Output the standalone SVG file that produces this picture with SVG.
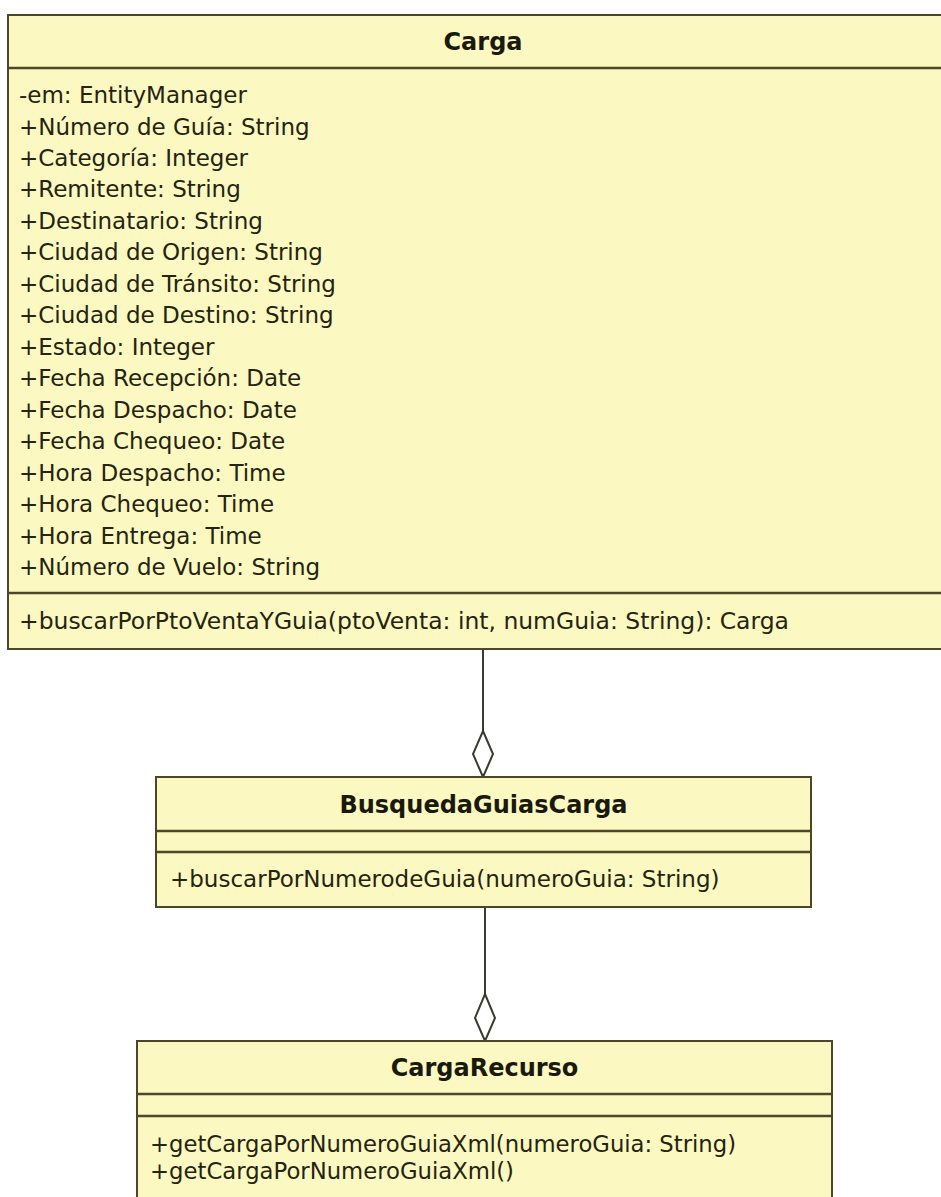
<svg xmlns="http://www.w3.org/2000/svg" width="941" height="1197" viewBox="0 0 941 1197">
  <style>
    .box { fill: #fcf8c2; stroke: #4e4628; stroke-width: 2; }
    .sep { stroke: #4e4628; stroke-width: 2.5; }
    .name { font-family: "DejaVu Sans", "Liberation Sans", sans-serif; font-size: 24px; font-weight: bold; fill: #1a1a0c; text-anchor: middle; dominant-baseline: central; }
    .member { font-family: "DejaVu Sans", "Liberation Sans", sans-serif; font-size: 23px; fill: #24240f; dominant-baseline: central; }
    .link { stroke: #3a3a30; stroke-width: 2; fill: none; }
    .agg { fill: #ffffff; stroke: #3a3a30; stroke-width: 2; }
  </style>
  <rect width="941" height="1197" fill="#ffffff"/>

  <!-- aggregation connectors -->
  <g id="connectors">
    <line class="link" x1="483" y1="649" x2="483" y2="731"/>
    <polygon class="agg" points="483,731 493,754 483,777 473,754"/>
    <line class="link" x1="485" y1="907" x2="485" y2="994"/>
    <polygon class="agg" points="485,994 495,1018 485,1041 475,1018"/>
  </g>

  <!-- class Carga -->
  <g id="carga">
    <rect class="box" x="8" y="15" width="960" height="634"/>
    <line class="sep" x1="8" y1="68" x2="968" y2="68"/>
    <line class="sep" x1="8" y1="593" x2="968" y2="593"/>
    <text class="name" x="483" y="42">Carga</text>
    <text class="member" x="19" y="95">-em: EntityManager</text>
    <text class="member" x="19" y="127">+Número de Guía: String</text>
    <text class="member" x="19" y="158">+Categoría: Integer</text>
    <text class="member" x="19" y="189">+Remitente: String</text>
    <text class="member" x="19" y="221">+Destinatario: String</text>
    <text class="member" x="19" y="252">+Ciudad de Origen: String</text>
    <text class="member" x="19" y="284">+Ciudad de Tránsito: String</text>
    <text class="member" x="19" y="315">+Ciudad de Destino: String</text>
    <text class="member" x="19" y="347">+Estado: Integer</text>
    <text class="member" x="19" y="378">+Fecha Recepción: Date</text>
    <text class="member" x="19" y="410">+Fecha Despacho: Date</text>
    <text class="member" x="19" y="441">+Fecha Chequeo: Date</text>
    <text class="member" x="19" y="473">+Hora Despacho: Time</text>
    <text class="member" x="19" y="504">+Hora Chequeo: Time</text>
    <text class="member" x="19" y="536">+Hora Entrega: Time</text>
    <text class="member" x="19" y="567">+Número de Vuelo: String</text>
    <text class="member" x="19" y="621" textLength="770" lengthAdjust="spacingAndGlyphs">+buscarPorPtoVentaYGuia(ptoVenta: int, numGuia: String): Carga</text>
  </g>

  <!-- class BusquedaGuiasCarga -->
  <g id="busquedaGuiasCarga">
    <rect class="box" x="156" y="777" width="655" height="130"/>
    <line class="sep" x1="156" y1="831" x2="811" y2="831"/>
    <line class="sep" x1="156" y1="852" x2="811" y2="852"/>
    <text class="name" x="483.5" y="805">BusquedaGuiasCarga</text>
    <text class="member" x="170" y="879">+buscarPorNumerodeGuia(numeroGuia: String)</text>
  </g>

  <!-- class CargaRecurso -->
  <g id="cargaRecurso">
    <rect class="box" x="137" y="1041" width="695" height="170"/>
    <line class="sep" x1="137" y1="1094" x2="832" y2="1094"/>
    <line class="sep" x1="137" y1="1116" x2="832" y2="1116"/>
    <text class="name" x="484.5" y="1068">CargaRecurso</text>
    <text class="member" x="150" y="1144" textLength="586" lengthAdjust="spacingAndGlyphs">+getCargaPorNumeroGuiaXml(numeroGuia: String)</text>
    <text class="member" x="150" y="1171" textLength="364" lengthAdjust="spacingAndGlyphs">+getCargaPorNumeroGuiaXml()</text>
  </g>
</svg>
